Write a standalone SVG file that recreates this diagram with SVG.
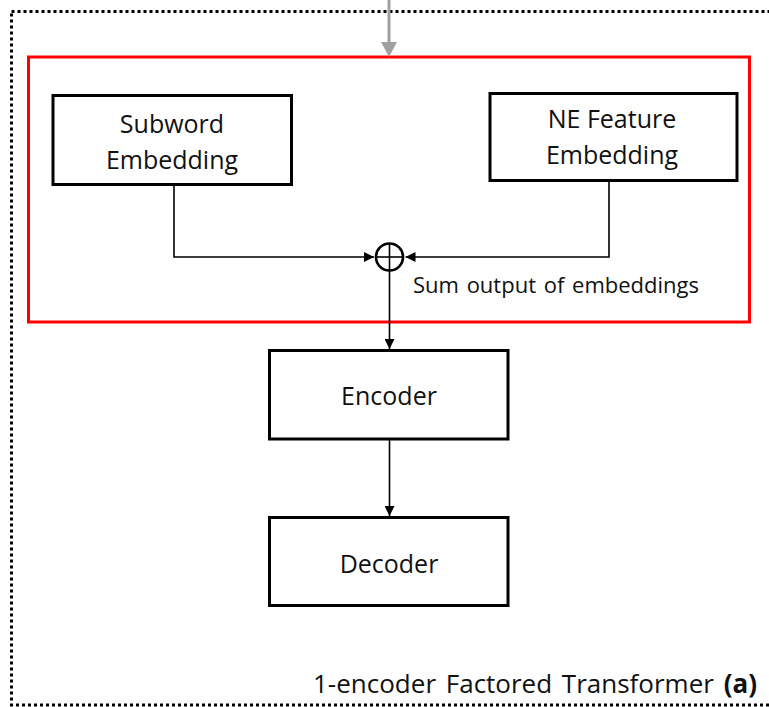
<svg xmlns="http://www.w3.org/2000/svg" width="769" height="707" viewBox="0 0 769 707">
  <style>
    .box { fill: #ffffff; stroke: #000000; stroke-width: 3; }
    .lbl { font-family: "Open Sans", "Liberation Sans", sans-serif; font-size: 25px; fill: #111111; text-anchor: middle; }
    .wire { fill: none; stroke: #000000; stroke-width: 1.6; }
  </style>
  <defs>
    <marker id="arrow" viewBox="0 0 10 10" refX="10" refY="5" markerWidth="10" markerHeight="10" markerUnits="userSpaceOnUse" orient="auto">
      <path d="M0,0 L10,5 L0,10 Z" fill="#000000"/>
    </marker>
  </defs>

  <rect width="769" height="707" fill="#ffffff"/>

  <!-- outer dotted frame -->
  <rect id="frame" x="11.5" y="11.5" width="800" height="693.5" fill="none" stroke="#000000" stroke-width="3" stroke-dasharray="3 3"/>

  <!-- embedding block (red) -->
  <rect id="embedding-block" x="28.5" y="57" width="721" height="265" fill="none" stroke="#ff0000" stroke-width="3"/>

  <!-- incoming input arrow -->
  <g id="input-arrow">
    <line x1="389" y1="0" x2="389" y2="44" stroke="#a0a0a0" stroke-width="3"/>
    <path d="M381,42 L397,42 L389,57 Z" fill="#a0a0a0"/>
  </g>

  <g id="subword">
    <rect class="box" x="53" y="95.5" width="238.5" height="89"/>
    <text class="lbl" x="172" y="133">Subword</text>
    <text class="lbl" x="172" y="169">Embedding</text>
  </g>

  <g id="ne-feature">
    <rect class="box" x="490" y="93.5" width="247" height="87"/>
    <text class="lbl" x="612" y="128">NE Feature</text>
    <text class="lbl" x="612" y="164">Embedding</text>
  </g>

  <g id="sum">
    <circle cx="389.5" cy="257" r="13.5" fill="#ffffff" stroke="#000000" stroke-width="2.6"/>
    <line x1="389.5" y1="243.5" x2="389.5" y2="270.5" stroke="#000000" stroke-width="1.6"/>
    <line x1="376" y1="257" x2="403" y2="257" stroke="#000000" stroke-width="1.6"/>
    <text x="413" y="293" font-family="'Open Sans', 'Liberation Sans', sans-serif" font-size="22" fill="#111111" word-spacing="2">Sum output of embeddings</text>
  </g>

  <g id="encoder">
    <rect class="box" x="269.5" y="350.5" width="238.5" height="88.5"/>
    <text class="lbl" x="389" y="405">Encoder</text>
  </g>

  <g id="decoder">
    <rect class="box" x="269.5" y="517.5" width="238.5" height="88"/>
    <text class="lbl" x="389" y="573">Decoder</text>
  </g>

  <g id="connectors">
    <polyline class="wire" points="174,185 174,257 374,257" marker-end="url(#arrow)"/>
    <polyline class="wire" points="609,181 609,257 405.5,257" marker-end="url(#arrow)"/>
    <line class="wire" x1="389.5" y1="271" x2="389.5" y2="349" marker-end="url(#arrow)"/>
    <line class="wire" x1="389.5" y1="440" x2="389.5" y2="516" marker-end="url(#arrow)"/>
  </g>

  <text id="caption" x="757" y="693" font-family="'Open Sans', 'Liberation Sans', sans-serif" font-size="26" fill="#111111" text-anchor="end" word-spacing="3">1-encoder Factored Transformer <tspan font-weight="bold">(a)</tspan></text>
</svg>
